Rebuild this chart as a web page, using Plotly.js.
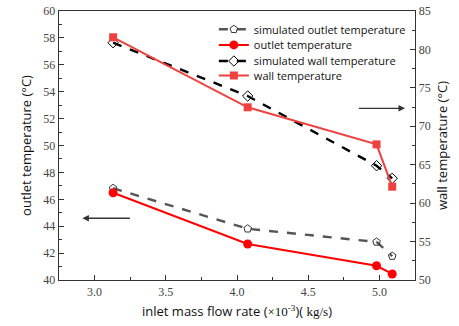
<!DOCTYPE html>
<html><head><meta charset="utf-8">
<script src="https://cdn.plot.ly/plotly-3.0.1.min.js"></script>
<style>html,body{margin:0;padding:0;background:#fff}#c{width:459px;height:326px}</style>
</head><body><div id="c"></div>
<script>
var flowRate = [3.13, 4.075, 4.98, 5.09];
var simOutlet = [46.82, 43.81, 42.83, 41.78];
var outlet = [46.49, 42.68, 41.06, 40.45];
var simWall = [80.87, 73.94, 64.87, 63.23];
var wall = [81.58, 72.47, 67.65, 62.14];
var names = ["simulated outlet temperature", "outlet temperature", "simulated wall temperature", "wall temperature"];

var tickFont = {family: "Liberation Serif, Times New Roman, serif", size: 12, color: "#444"};
var titleFont = {family: "Open Sans, Noto Sans, sans-serif", size: 13, color: "#111"};

var traces = [
  {x: flowRate, y: simOutlet, name: names[0], mode: "lines+markers", yaxis: "y", legend: "legend",
   line: {color: "#555555", width: 2.4, dash: "dash"},
   marker: {symbol: "pentagon-open", size: 8, color: "#333", line: {width: 1}}},
  {x: flowRate, y: outlet, name: names[1], mode: "lines+markers", yaxis: "y", legend: "legend2",
   line: {color: "#ff0000", width: 2},
   marker: {symbol: "circle", size: 9, color: "#ff0000"}},
  {x: flowRate, y: simWall, name: names[2], mode: "lines+markers", yaxis: "y2", legend: "legend3",
   line: {color: "#000000", width: 2.4, dash: "dash"},
   marker: {symbol: "diamond-open", size: 8, color: "#000", line: {width: 1}}},
  {x: flowRate, y: wall, name: names[3], mode: "lines+markers", yaxis: "y2", legend: "legend4",
   line: {color: "#f04040", width: 2},
   marker: {symbol: "square", size: 8, color: "#f04040"}}
];

function leg(y) {
  return {x: 0.435, y: y, xanchor: "left", yanchor: "middle", bgcolor: "rgba(0,0,0,0)",
          font: {family: "Open Sans, Noto Sans, sans-serif", size: 11, color: "#111"},
          itemwidth: 30, tracegroupgap: 0};
}

var layout = {
  width: 459, height: 326,
  margin: {l: 59, r: 44, t: 11, b: 46},
  paper_bgcolor: "#fff", plot_bgcolor: "#fff",
  showlegend: true,
  legend: leg(0.932), legend2: leg(0.874), legend3: leg(0.814), legend4: leg(0.760),
  xaxis: {range: [2.75, 5.25], tickvals: [3.0, 3.5, 4.0, 4.5, 5.0], ticktext: ["3.0","3.5","4.0","4.5","5.0"],
          ticks: "inside", ticklen: 5, tickcolor: "#333", showgrid: false, zeroline: false,
          showline: true, linecolor: "#333", linewidth: 1.3, mirror: true,
          minor: {dtick: 0.25, ticks: "inside", ticklen: 3, tickcolor: "#333"},
          tickfont: tickFont,
          title: {text: 'inlet mass flow rate (<span style="font-family:Liberation Serif">×10<sup>-3</sup></span>)( <span style="font-family:Liberation Serif">kg/s</span>)', font: titleFont, standoff: 9}},
  yaxis: {range: [40, 60], dtick: 2, ticks: "inside", ticklen: 5, tickcolor: "#333", showgrid: false, zeroline: false,
          showline: true, linecolor: "#333", linewidth: 1.3,
          minor: {dtick: 1, ticks: "inside", ticklen: 3, tickcolor: "#333"},
          tickfont: tickFont,
          title: {text: "outlet temperature (°C)", font: titleFont, standoff: 8}},
  yaxis2: {range: [50, 85], dtick: 5, overlaying: "y", side: "right", ticks: "inside", ticklen: 5, tickcolor: "#333",
          showgrid: false, zeroline: false, showline: true, linecolor: "#333", linewidth: 1.3,
          minor: {dtick: 2.5, ticks: "inside", ticklen: 3, tickcolor: "#333"},
          tickfont: tickFont,
          title: {text: "wall temperature (°C)", font: titleFont, standoff: 8}},
  annotations: [
    {x: 2.914, y: 44.59, xref: "x", yref: "y", ax: 3.258, ay: 44.59, axref: "x", ayref: "y",
     text: "", showarrow: true, arrowhead: 2, arrowsize: 1, arrowwidth: 1.3, arrowcolor: "#333"},
    {x: 5.18, y: 72.34, xref: "x", yref: "y2", ax: 4.845, ay: 72.34, axref: "x", ayref: "y2",
     text: "", showarrow: true, arrowhead: 2, arrowsize: 1, arrowwidth: 1.3, arrowcolor: "#333"}
  ]
};

Plotly.newPlot("c", traces, layout, {staticPlot: true, displayModeBar: false});
</script></body></html>
